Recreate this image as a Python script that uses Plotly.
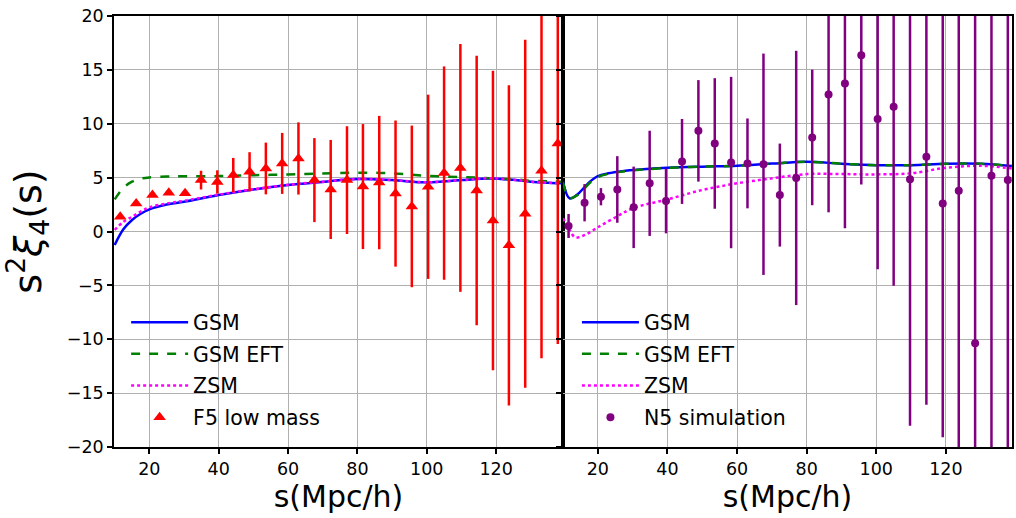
import plotly.graph_objects as go

# ---------------- data ----------------
# Left panel: F5 low mass
s_f5 = [11.6, 16.2, 20.9, 25.6, 30.3, 34.9, 39.6, 44.2, 48.9, 53.6, 58.3, 63.0, 67.6, 72.3,
        77.0, 81.6, 86.3, 91.0, 95.7, 100.4, 105.0, 109.7, 114.4, 119.1, 123.7, 128.4, 133.1, 137.8]
xi_f5 = [1.37, 2.6, 3.38, 3.6, 3.54, 4.77, 4.6, 5.24, 5.54, 5.85, 6.32, 6.78, 4.77, 3.9,
         4.77, 4.17, 4.54, 3.52, 2.33, 4.15, 5.42, 5.9, 3.8, 1.03, -1.28, 1.65, 5.63, 8.17]
err_f5 = [0.0, 0.0, 0.0, 0.0, 0.0, 0.87, 1.08, 1.59, 1.82, 2.4, 2.83, 3.35, 3.9, 4.6,
          5.0, 5.8, 6.19, 6.78, 7.5, 8.55, 9.9, 11.5, 12.5, 13.9, 14.86, 16.15, 17.4, 18.6]

# Right panel: N5 simulation
s_n5 = s_f5
xi_n5 = [0.51, 2.67, 3.23, 3.9, 2.24, 4.47, 2.83, 6.5, 9.34, 8.17, 6.4, 6.32, 6.24, 3.38,
         4.97, 8.73, 12.71, 13.73, 16.36, 10.43, 11.57, 4.84, 6.93, 2.61, 3.78, -10.36, 5.17, 4.77]
err_n5 = [1.11, 1.73, 0.8, 3.09, 3.78, 4.88, 3.0, 3.94, 4.71, 6.06, 7.95, 4.17, 10.27, 4.78,
          11.8, 6.29, 10.93, 13.43, 11.99, 13.93, 16.6, 22.87, 23.0, 21.7, 26.0, 32.0, 27.0, 28.0]

# Model curves, left panel
s_l = [10, 12.5, 15, 17.5, 20, 25, 30, 40, 50, 60, 70, 80, 90, 100, 110, 118, 125, 130, 135, 139]
gsm_l = [-1.25, 0.2, 1.07, 1.65, 2.06, 2.5, 2.76, 3.38, 3.9, 4.31, 4.6, 4.87, 4.77, 4.56, 4.77, 4.93, 4.8, 4.62, 4.52, 4.47]
eft_l = [2.98, 4.05, 4.62, 4.9, 5.02, 5.1, 5.12, 5.14, 5.22, 5.3, 5.38, 5.45, 5.4, 5.17, 5.05, 4.95, 4.85, 4.71, 4.66, 4.62]
zsm_l = [0.14, 0.9, 1.37, 1.85, 2.24, 2.6, 2.85, 3.42, 3.92, 4.33, 4.62, 4.88, 4.78, 4.57, 4.78, 4.94, 4.81, 4.63, 4.53, 4.48]

# Model curves, right panel
s_r = [10, 11.9, 14, 16.3, 18, 20, 23, 27, 32, 40, 50, 60, 70, 80, 90, 100, 110, 120, 130, 139]
gsm_r = [4.62, 3.08, 3.4, 4.15, 4.7, 5.14, 5.4, 5.6, 5.75, 5.91, 6.02, 6.1, 6.3, 6.47, 6.29, 6.16, 6.16, 6.29, 6.29, 6.07]
eft_r = [4.55, 3.1, 3.35, 4.05, 4.6, 5.05, 5.35, 5.56, 5.72, 5.9, 6.02, 6.1, 6.3, 6.47, 6.29, 6.16, 6.16, 6.29, 6.29, 6.07]
s_rz = [10, 12, 13.5, 16.3, 20, 25, 30, 40, 50, 60, 70, 80, 90, 100, 110, 120, 130, 139]
zsm_r = [1.22, 0.1, -0.54, -0.32, 0.39, 1.3, 2.15, 2.98, 3.85, 4.47, 4.93, 5.33, 5.33, 5.3, 5.4, 5.91, 6.1, 5.85]

yticks = [-20, -15, -10, -5, 0, 5, 10, 15, 20]
xticks = [20, 40, 60, 80, 100, 120]

# ---------------- figure ----------------
FONT = "DejaVu Sans"
fig = go.Figure()

def add_models(s, gsm, eft, sz, zsm, xa, ya, leg, grp):
    fig.add_trace(go.Scatter(x=s, y=gsm, mode="lines", name="GSM", line=dict(color="#0000ff", width=2.5, shape="spline"),
                             xaxis=xa, yaxis=ya, legend=leg, legendgroup=grp + "a"))
    fig.add_trace(go.Scatter(x=s, y=eft, mode="lines", name="GSM EFT", line=dict(color="#008000", width=2.5, dash="dash", shape="spline"),
                             xaxis=xa, yaxis=ya, legend=leg, legendgroup=grp + "b"))
    fig.add_trace(go.Scatter(x=sz, y=zsm, mode="lines", name="ZSM", line=dict(color="#ff00ff", width=2.5, dash="dot", shape="spline"),
                             xaxis=xa, yaxis=ya, legend=leg, legendgroup=grp + "c"))

add_models(s_l, gsm_l, eft_l, s_l, zsm_l, "x", "y", "legend", "L")
fig.add_trace(go.Scatter(x=s_f5, y=xi_f5, mode="markers", name="F5 low mass",
                         marker=dict(symbol="triangle-up", size=11, color="#ff0000"),
                         error_y=dict(type="data", array=err_f5, color="#ff0000", thickness=2.5, width=0),
                         xaxis="x", yaxis="y", legend="legend", legendgroup="Ld"))

add_models(s_r, gsm_r, eft_r, s_rz, zsm_r, "x2", "y2", "legend2", "R")
fig.add_trace(go.Scatter(x=s_n5, y=xi_n5, mode="markers", name="N5 simulation",
                         marker=dict(symbol="circle", size=8, color="#800080"),
                         error_y=dict(type="data", array=err_n5, color="#800080", thickness=2.5, width=0),
                         xaxis="x2", yaxis="y2", legend="legend2", legendgroup="Rd"))

axis_common = dict(showline=True, linecolor="black", linewidth=1.5, mirror=True,
                   showgrid=True, gridcolor="#b0b0b0", gridwidth=1, zeroline=False,
                   ticks="outside", ticklen=5, tickwidth=1.5, tickcolor="black", automargin=False,
                   ticklabeloverflow="allow",
                   tickfont=dict(family=FONT, size=17.5, color="black"))

fig.update_layout(
    width=1016, height=518,
    margin=dict(l=114, r=4, t=16, b=71, autoexpand=False),
    plot_bgcolor="white", paper_bgcolor="white",
    showlegend=True,
    xaxis=dict(domain=[0.0, 0.5], range=[9.8, 139.3], tickvals=xticks, anchor="y",
               title=dict(text="s(Mpc/h)", font=dict(family=FONT, size=30, color="black"), standoff=4),
               **axis_common),
    yaxis=dict(domain=[0.0, 1.0], range=[-20, 20], tickvals=yticks, anchor="x",
               title=dict(text="s<sup>2</sup><i>ξ</i><sub>4</sub>(s)", font=dict(family=FONT, size=38, color="black"), standoff=25),
               **axis_common),
    xaxis2=dict(domain=[0.5, 1.0], range=[10.0, 139.0], tickvals=xticks, anchor="y2",
                title=dict(text="s(Mpc/h)", font=dict(family=FONT, size=30, color="black"), standoff=4),
                **axis_common),
    yaxis2=dict(domain=[0.0, 1.0], range=[-20, 20], tickvals=yticks, anchor="x2",
                showticklabels=False, **axis_common),
    legend=dict(x=0.0135, y=0.3356, xanchor="left", yanchor="top", bgcolor="rgba(255,255,255,0)",
                font=dict(family=FONT, size=20.5, color="black"), tracegroupgap=2, itemwidth=57),
    legend2=dict(x=0.5155, y=0.3356, xanchor="left", yanchor="top", bgcolor="rgba(255,255,255,0)",
                 font=dict(family=FONT, size=20.5, color="black"), tracegroupgap=2, itemwidth=57),
)

fig.write_html("out.html", config={"displayModeBar": False},
               post_script="document.body.style.margin='0';document.body.style.overflow='hidden';")
